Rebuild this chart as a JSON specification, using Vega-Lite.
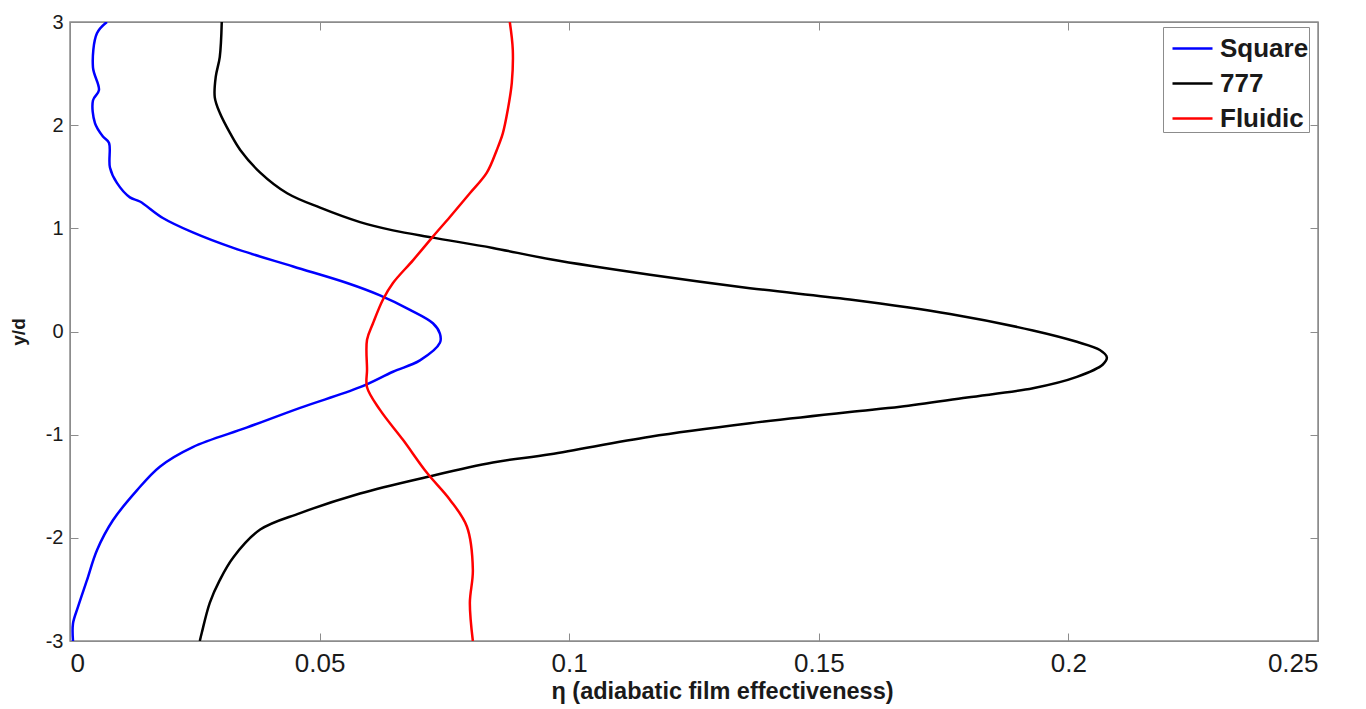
{
  "$schema": "https://vega.github.io/schema/vega-lite/v6.json",
  "width": 1248,
  "height": 619,
  "autosize": {"type": "none"},
  "padding": {"left": 70, "top": 22, "right": 48, "bottom": 68},
  "background": "white",
  "config": {
    "view": {"stroke": "#8c8c8c", "strokeWidth": 1.5},
    "axis": {"grid": false, "domainColor": "#8c8c8c", "tickColor": "#8c8c8c", "labelColor": "#1a1a1a", "titleColor": "#1a1a1a"}
  },
  "data": {"values": [
    {"s":"Square","eta":0.0074,"yd":3.00},
    {"s":"Square","eta":0.0054,"yd":2.89},
    {"s":"Square","eta":0.0046,"yd":2.56},
    {"s":"Square","eta":0.0058,"yd":2.34},
    {"s":"Square","eta":0.0046,"yd":2.24},
    {"s":"Square","eta":0.0050,"yd":2.02},
    {"s":"Square","eta":0.0066,"yd":1.89},
    {"s":"Square","eta":0.0078,"yd":1.83},
    {"s":"Square","eta":0.0080,"yd":1.59},
    {"s":"Square","eta":0.0094,"yd":1.44},
    {"s":"Square","eta":0.0120,"yd":1.30},
    {"s":"Square","eta":0.0140,"yd":1.26},
    {"s":"Square","eta":0.0186,"yd":1.10},
    {"s":"Square","eta":0.0246,"yd":0.96},
    {"s":"Square","eta":0.0327,"yd":0.81},
    {"s":"Square","eta":0.0447,"yd":0.63},
    {"s":"Square","eta":0.0555,"yd":0.47},
    {"s":"Square","eta":0.0621,"yd":0.35},
    {"s":"Square","eta":0.0681,"yd":0.21},
    {"s":"Square","eta":0.0727,"yd":0.08},
    {"s":"Square","eta":0.0741,"yd":-0.02},
    {"s":"Square","eta":0.0741,"yd":-0.11},
    {"s":"Square","eta":0.0701,"yd":-0.28},
    {"s":"Square","eta":0.0647,"yd":-0.39},
    {"s":"Square","eta":0.0581,"yd":-0.54},
    {"s":"Square","eta":0.0461,"yd":-0.74},
    {"s":"Square","eta":0.0355,"yd":-0.93},
    {"s":"Square","eta":0.0246,"yd":-1.12},
    {"s":"Square","eta":0.0180,"yd":-1.31},
    {"s":"Square","eta":0.0134,"yd":-1.54},
    {"s":"Square","eta":0.0086,"yd":-1.83},
    {"s":"Square","eta":0.0054,"yd":-2.12},
    {"s":"Square","eta":0.0034,"yd":-2.41},
    {"s":"Square","eta":0.0016,"yd":-2.67},
    {"s":"Square","eta":0.0006,"yd":-2.83},
    {"s":"Square","eta":0.0006,"yd":-3.00},
    {"s":"777","eta":0.0304,"yd":3.00},
    {"s":"777","eta":0.0300,"yd":2.66},
    {"s":"777","eta":0.0292,"yd":2.47},
    {"s":"777","eta":0.0290,"yd":2.27},
    {"s":"777","eta":0.0300,"yd":2.12},
    {"s":"777","eta":0.0321,"yd":1.92},
    {"s":"777","eta":0.0341,"yd":1.76},
    {"s":"777","eta":0.0381,"yd":1.54},
    {"s":"777","eta":0.0435,"yd":1.34},
    {"s":"777","eta":0.0501,"yd":1.20},
    {"s":"777","eta":0.0581,"yd":1.06},
    {"s":"777","eta":0.0647,"yd":0.98},
    {"s":"777","eta":0.0727,"yd":0.91},
    {"s":"777","eta":0.0847,"yd":0.81},
    {"s":"777","eta":0.0962,"yd":0.70},
    {"s":"777","eta":0.1162,"yd":0.55},
    {"s":"777","eta":0.1362,"yd":0.42},
    {"s":"777","eta":0.1562,"yd":0.31},
    {"s":"777","eta":0.1763,"yd":0.17},
    {"s":"777","eta":0.1929,"yd":0.01},
    {"s":"777","eta":0.2017,"yd":-0.10},
    {"s":"777","eta":0.2063,"yd":-0.18},
    {"s":"777","eta":0.2077,"yd":-0.25},
    {"s":"777","eta":0.2069,"yd":-0.32},
    {"s":"777","eta":0.2017,"yd":-0.44},
    {"s":"777","eta":0.1929,"yd":-0.55},
    {"s":"777","eta":0.1797,"yd":-0.64},
    {"s":"777","eta":0.1663,"yd":-0.73},
    {"s":"777","eta":0.1562,"yd":-0.78},
    {"s":"777","eta":0.1362,"yd":-0.89},
    {"s":"777","eta":0.1162,"yd":-1.02},
    {"s":"777","eta":0.0962,"yd":-1.19},
    {"s":"777","eta":0.0847,"yd":-1.27},
    {"s":"777","eta":0.0715,"yd":-1.41},
    {"s":"777","eta":0.0581,"yd":-1.57},
    {"s":"777","eta":0.0461,"yd":-1.76},
    {"s":"777","eta":0.0381,"yd":-1.92},
    {"s":"777","eta":0.0327,"yd":-2.19},
    {"s":"777","eta":0.0300,"yd":-2.41},
    {"s":"777","eta":0.0280,"yd":-2.63},
    {"s":"777","eta":0.0264,"yd":-2.92},
    {"s":"777","eta":0.0260,"yd":-3.00},
    {"s":"Fluidic","eta":0.0881,"yd":3.00},
    {"s":"Fluidic","eta":0.0887,"yd":2.73},
    {"s":"Fluidic","eta":0.0885,"yd":2.41},
    {"s":"Fluidic","eta":0.0877,"yd":2.15},
    {"s":"Fluidic","eta":0.0867,"yd":1.92},
    {"s":"Fluidic","eta":0.0855,"yd":1.76},
    {"s":"Fluidic","eta":0.0835,"yd":1.54},
    {"s":"Fluidic","eta":0.0801,"yd":1.34},
    {"s":"Fluidic","eta":0.0761,"yd":1.11},
    {"s":"Fluidic","eta":0.0727,"yd":0.92},
    {"s":"Fluidic","eta":0.0687,"yd":0.69},
    {"s":"Fluidic","eta":0.0647,"yd":0.47},
    {"s":"Fluidic","eta":0.0627,"yd":0.31},
    {"s":"Fluidic","eta":0.0607,"yd":0.08},
    {"s":"Fluidic","eta":0.0595,"yd":-0.08},
    {"s":"Fluidic","eta":0.0595,"yd":-0.37},
    {"s":"Fluidic","eta":0.0595,"yd":-0.54},
    {"s":"Fluidic","eta":0.0621,"yd":-0.76},
    {"s":"Fluidic","eta":0.0667,"yd":-1.05},
    {"s":"Fluidic","eta":0.0715,"yd":-1.37},
    {"s":"Fluidic","eta":0.0761,"yd":-1.63},
    {"s":"Fluidic","eta":0.0795,"yd":-1.89},
    {"s":"Fluidic","eta":0.0807,"yd":-2.31},
    {"s":"Fluidic","eta":0.0801,"yd":-2.63},
    {"s":"Fluidic","eta":0.0807,"yd":-3.00}
  ]},
  "layer": [
    {
      "mark": {"type": "line", "strokeWidth": 2.5, "clip": true, "interpolate": "catmull-rom"},
      "encoding": {
        "x": {"field": "eta", "type": "quantitative",
              "scale": {"domain": [0, 0.25], "nice": false, "zero": false},
              "axis": {"orient": "bottom", "values": [0, 0.05, 0.1, 0.15, 0.2, 0.25], "format": "~g",
                       "tickSize": -8, "labelPadding": 17, "labelFont": "Liberation Sans", "labelFontSize": 26,
                       "title": "η (adiabatic film effectiveness)", "titleFont": "Liberation Sans", "titleFontSize": 23.5,
                       "titleFontWeight": "bold", "titlePadding": 3, "titleX": 652, "titleAlign": "center"}},
        "y": {"field": "yd", "type": "quantitative",
              "scale": {"domain": [-3, 3], "nice": false, "zero": false},
              "axis": {"orient": "left", "values": [-3, -2, -1, 0, 1, 2, 3], "labelExpr": "datum.value + ''",
                       "tickSize": -8, "labelPadding": 15, "labelFont": "Liberation Sans", "labelFontSize": 20,
                       "title": "y/d", "titleFont": "Liberation Sans", "titleFontSize": 19, "titleFontWeight": "bold", "titlePadding": 17}},
        "color": {"field": "s", "type": "nominal",
                  "scale": {"domain": ["Square", "777", "Fluidic"], "range": ["#0000ff", "#000000", "#ff0000"]},
                  "legend": {"title": null, "orient": "none", "legendX": 1093, "legendY": 5,
                             "labelFont": "Liberation Sans", "labelFontSize": 26, "labelFontWeight": "bold", "labelColor": "#1a1a1a",
                             "symbolType": "stroke", "symbolSize": 1600, "symbolStrokeWidth": 2.5, "symbolOffset": 8,
                             "strokeColor": "#8c8c8c", "fillColor": "white", "padding": 0, "rowPadding": -7, "labelOffset": 6}},
        "order": {"field": "yd", "type": "quantitative"}
      }
    },
    {
      "mark": {"type": "line", "strokeOpacity": 0},
      "encoding": {
        "x": {"field": "eta", "type": "quantitative",
              "scale": {"domain": [0, 0.25], "nice": false, "zero": false},
              "axis": {"orient": "top", "values": [0, 0.05, 0.1, 0.15, 0.2, 0.25], "labels": false, "title": null, "tickSize": -8}},
        "y": {"field": "yd", "type": "quantitative",
              "scale": {"domain": [-3, 3], "nice": false, "zero": false},
              "axis": {"orient": "right", "values": [-3, -2, -1, 0, 1, 2, 3], "labels": false, "title": null, "tickSize": -8}},
        "detail": {"field": "s"},
        "order": {"field": "yd", "type": "quantitative"}
      }
    }
  ],
  "resolve": {"axis": {"x": "independent", "y": "independent"}}
}
